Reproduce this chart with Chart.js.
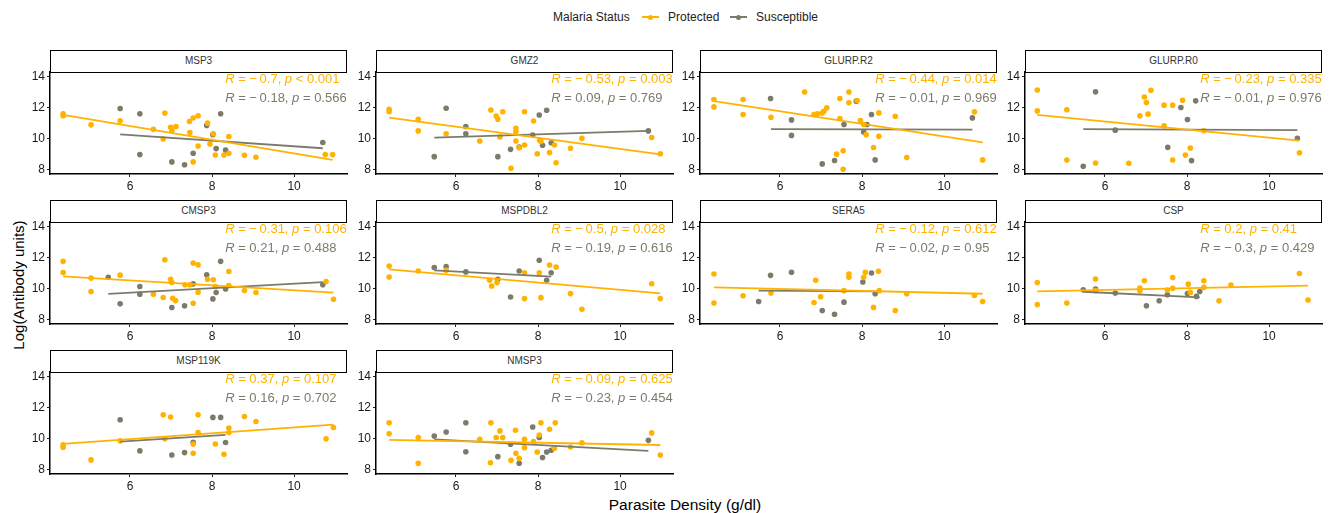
<!DOCTYPE html>
<html>
<head>
<meta charset="utf-8">
<script src="https://cdn.jsdelivr.net/npm/chart.js@4/dist/chart.umd.min.js"></script>
<style>
  body {
    margin: 0;
    width: 1333px;
    height: 513px;
    background: #fff;
    position: relative;
    overflow: hidden;
    font-family: 'Liberation Sans', Arial, sans-serif;
  }
  canvas { position: absolute; }
  .strip {
    position: absolute;
    box-sizing: border-box;
    border: 1.5px solid #000;
    background: #fff;
    font-size: 10px;
    color: #333;
    text-align: center;
    line-height: 20px;
  }
  .txt { position: absolute; white-space: nowrap; color: #222; }
  .key { position: absolute; width: 17px; height: 14px; top: 10px; }
  .key .ln { position: absolute; left: 0; right: 0; top: 6px; height: 1.6px; }
  .key .pt { position: absolute; left: 6px; top: 4.5px; width: 5px; height: 5px; border-radius: 50%; }
</style>
</head>
<body>
<div class="txt" style="left:553px;top:10px;font-size:12px;line-height:14px;">Malaria Status</div>
<div class="key" style="left:642px;"><div class="ln" style="background:#FFB300"></div><div class="pt" style="background:#FFB300"></div></div>
<div class="txt" style="left:668px;top:10px;font-size:12px;line-height:14px;">Protected</div>
<div class="key" style="left:730px;"><div class="ln" style="background:#7C7B6B"></div><div class="pt" style="background:#7C7B6B"></div></div>
<div class="txt" style="left:756px;top:10px;font-size:12px;line-height:14px;">Susceptible</div>
<div class="txt" style="left:18px;top:285px;font-size:15px;transform:translate(-50%,-50%) rotate(-90deg);color:#000;">Log(Antibody units)</div>
<div class="txt" style="left:685px;top:505px;font-size:15.5px;transform:translate(-50%,-50%);color:#000;">Parasite Density (g/dl)</div>
<script>
const PROTECTED = '#FFB300'
const SUSCEPTIBLE = '#7C7B6B'

const antigens = ['MSP3', 'GMZ2', 'GLURP.R2', 'GLURP.R0', 'CMSP3', 'MSPDBL2', 'SERA5', 'CSP', 'MSP119K', 'NMSP3']
const xTickValues = [6, 8, 10]
const yTickValues = [8, 10, 12, 14]

// [parasite density, log antibody]
const msp3Prot = [[4.37, 11.63], [4.37, 11.5], [5.05, 10.91], [5.76, 11.17], [6.57, 10.63], [6.81, 10.0], [6.85, 11.67], [6.99, 10.76], [7.02, 10.55], [7.12, 10.8], [7.45, 11.13], [7.54, 11.35], [7.66, 11.5], [7.46, 10.42], [7.54, 8.52], [7.66, 9.55], [7.89, 11.02], [7.95, 9.68], [8.03, 10.33], [8.08, 8.97], [8.29, 8.97], [8.41, 10.16], [8.41, 9.08], [8.79, 8.95], [9.07, 8.82], [10.76, 8.99], [10.94, 8.99]]
const msp3Sus = [[5.76, 11.97], [6.24, 11.63], [6.24, 8.99], [7.02, 8.52], [7.33, 8.34], [7.54, 9.08], [7.87, 10.87], [8.02, 10.27], [8.10, 9.38], [8.21, 11.63], [8.33, 9.29], [10.70, 9.77]]
const gmz2Prot = [[4.37, 11.91], [4.37, 11.76], [5.08, 11.27], [5.08, 10.52], [5.76, 10.34], [6.58, 9.87], [6.85, 11.87], [6.98, 11.48], [7.02, 11.27], [7.14, 11.76], [7.07, 10.13], [7.34, 8.11], [7.46, 10.69], [7.46, 10.47], [7.46, 9.87], [7.54, 9.44], [7.67, 9.61], [7.67, 11.76], [7.89, 11.16], [7.98, 9.05], [8.04, 9.91], [8.07, 9.83], [8.28, 9.12], [8.40, 9.61], [8.44, 8.47], [8.79, 9.40], [9.07, 10.04], [10.77, 10.09], [10.98, 9.05]]
const gmz2Sus = [[5.47, 8.86], [5.76, 11.98], [6.24, 10.80], [6.24, 10.34], [7.02, 8.86], [7.33, 9.33], [7.54, 9.48], [7.87, 10.26], [8.03, 11.55], [8.11, 9.59], [8.21, 11.85], [8.32, 9.76], [10.69, 10.52]]
const glurpR2Prot = [[4.39, 12.55], [4.39, 12.07], [5.10, 12.55], [5.10, 11.58], [5.78, 11.40], [6.60, 13.03], [6.83, 11.58], [6.91, 11.62], [7.03, 11.68], [7.07, 11.79], [7.14, 12.01], [7.46, 12.61], [7.46, 11.32], [7.68, 13.03], [7.68, 12.33], [7.88, 12.48], [7.38, 9.02], [7.54, 9.24], [7.54, 8.05], [7.96, 11.19], [8.04, 10.93], [8.10, 10.28], [8.28, 9.45], [8.41, 10.17], [8.41, 11.68], [8.81, 11.47], [9.09, 8.80], [10.74, 11.75], [10.94, 8.65]]
const glurpR2Sus = [[5.77, 12.61], [6.28, 11.23], [6.28, 10.23], [7.03, 8.39], [7.33, 8.61], [7.56, 10.93], [7.86, 12.44], [8.04, 10.45], [8.12, 10.93], [8.23, 11.58], [8.32, 8.65], [10.69, 11.36]]
const glurpR0Prot = [[4.35, 13.16], [4.35, 11.81], [5.07, 11.88], [5.07, 8.64], [5.77, 8.45], [6.58, 8.43], [6.85, 11.49], [6.96, 12.71], [7.01, 12.35], [7.05, 11.60], [7.12, 13.14], [7.44, 12.18], [7.44, 10.85], [7.65, 12.18], [7.65, 8.64], [7.89, 12.50], [7.96, 8.96], [8.08, 9.41], [8.41, 10.53], [10.74, 9.11]]
const glurpR0Sus = [[5.47, 8.24], [5.77, 13.04], [6.25, 10.57], [7.53, 9.46], [7.85, 12.03], [8.01, 11.26], [8.11, 8.60], [8.21, 12.46], [10.69, 10.04]]
const cmsp3Prot = [[4.37, 11.78], [4.37, 11.06], [5.05, 10.70], [5.05, 9.83], [5.76, 10.89], [6.57, 9.66], [6.81, 9.45], [6.85, 11.88], [6.99, 10.63], [7.02, 10.42], [7.04, 9.40], [7.11, 9.25], [7.34, 10.27], [7.46, 10.27], [7.54, 9.08], [7.54, 11.67], [7.66, 11.56], [7.66, 9.79], [7.89, 10.63], [8.03, 10.59], [8.08, 10.16], [8.41, 11.13], [8.41, 10.22], [8.79, 9.90], [9.07, 9.77], [10.78, 10.48], [10.96, 9.34]]
const cmsp3Sus = [[5.47, 10.76], [5.76, 9.04], [6.24, 10.16], [6.24, 9.66], [7.02, 8.80], [7.33, 8.91], [7.54, 10.33], [7.87, 10.91], [8.02, 9.36], [8.10, 9.77], [8.21, 11.78], [8.33, 9.99], [10.70, 10.27]]
const mspdbl2Prot = [[4.37, 11.48], [4.37, 10.77], [5.08, 11.16], [5.76, 11.20], [6.82, 10.56], [6.87, 10.19], [7.00, 10.41], [7.67, 11.05], [7.67, 9.38], [8.03, 11.05], [8.07, 9.44], [8.28, 11.55], [8.44, 11.42], [8.79, 9.70], [9.07, 8.69], [10.77, 10.34], [10.98, 9.38]]
const mspdbl2Sus = [[5.47, 11.38], [5.76, 11.44], [6.24, 11.10], [7.02, 10.62], [7.33, 9.48], [7.54, 11.16], [8.03, 11.85], [8.21, 10.56], [8.32, 11.05]]
const sera5Prot = [[4.39, 10.97], [4.39, 9.09], [5.10, 9.56], [5.78, 9.74], [6.87, 10.56], [6.83, 9.13], [6.99, 9.50], [7.56, 9.89], [7.68, 10.97], [7.68, 10.75], [8.04, 10.75], [8.08, 11.08], [8.28, 8.81], [8.40, 11.14], [8.42, 9.89], [8.81, 8.61], [9.09, 9.69], [10.74, 9.58], [10.94, 9.19]]
const sera5Sus = [[5.48, 9.19], [5.77, 10.88], [6.28, 11.08], [7.03, 8.61], [7.33, 8.37], [7.56, 9.15], [8.02, 10.45], [8.23, 11.03], [8.32, 9.69]]
const cspProt = [[4.35, 10.42], [4.35, 8.99], [5.07, 9.09], [5.77, 10.64], [5.77, 9.89], [6.85, 10.06], [6.96, 10.53], [6.85, 9.89], [7.52, 9.93], [7.65, 10.74], [7.65, 10.04], [8.03, 10.31], [8.08, 9.78], [8.41, 10.53], [8.41, 10.10], [8.78, 9.24], [9.07, 10.25], [10.74, 11.00], [10.95, 9.29]]
const cspSus = [[5.47, 9.95], [5.77, 9.99], [6.25, 9.74], [7.01, 8.92], [7.32, 9.24], [7.52, 9.63], [8.01, 9.71], [8.23, 9.52], [8.31, 9.84]]
const msp119kProt = [[4.37, 9.62], [4.37, 9.47], [5.05, 8.65], [5.76, 9.88], [6.81, 11.56], [6.85, 10.01], [6.99, 11.41], [7.54, 9.68], [7.54, 9.08], [7.66, 11.56], [7.66, 10.42], [8.08, 9.68], [8.29, 9.01], [8.41, 10.70], [8.41, 10.42], [8.79, 11.45], [9.07, 11.13], [10.78, 10.01], [10.96, 10.74]]
const msp119kSus = [[5.76, 11.24], [6.24, 9.23], [7.02, 8.97], [7.33, 9.12], [7.54, 9.79], [8.02, 11.39], [8.21, 11.39], [8.33, 9.77]]
const nmsp3Prot = [[4.37, 11.05], [4.37, 10.34], [5.08, 10.09], [5.08, 8.43], [6.58, 9.98], [6.85, 11.05], [6.84, 8.47], [6.98, 10.09], [7.07, 10.52], [7.14, 10.09], [7.34, 8.62], [7.45, 10.56], [7.46, 9.08], [7.54, 8.75], [7.67, 9.98], [7.67, 9.44], [7.89, 9.83], [7.98, 9.16], [8.03, 10.26], [8.07, 11.05], [8.28, 10.62], [8.40, 9.40], [8.42, 11.05], [8.79, 9.48], [9.07, 9.76], [10.77, 10.39], [10.98, 8.97]]
const nmsp3Sus = [[5.47, 10.19], [5.76, 10.45], [6.24, 11.05], [6.24, 9.18], [7.02, 8.86], [7.33, 9.66], [7.54, 8.43], [7.87, 10.77], [8.03, 10.09], [8.11, 8.80], [8.21, 9.16], [8.32, 9.27], [10.69, 9.91]]

// fitted line end points
const protFits = [
  [[4.37, 11.56], [10.94, 8.65]], [[4.37, 11.38], [10.98, 9.01]], [[4.39, 12.44], [10.94, 9.78]], [[4.35, 11.56], [10.74, 9.89]],
  [[4.37, 10.81], [10.96, 9.77]], [[4.37, 11.27], [10.98, 9.72]], [[4.39, 10.10], [10.94, 9.69]], [[4.35, 9.84], [10.95, 10.21]],
  [[4.37, 9.68], [10.96, 10.92]], [[4.37, 9.94], [10.98, 9.61]]
]
const susFits = [
  [[5.76, 10.29], [10.70, 9.40]], [[5.47, 10.09], [10.69, 10.52]], [[5.78, 10.64], [10.69, 10.60]], [[5.47, 10.64], [10.69, 10.57]],
  [[5.47, 9.68], [10.70, 10.44]], [[5.47, 11.20], [8.32, 10.80]], [[5.48, 9.89], [8.32, 9.84]], [[5.47, 9.82], [8.31, 9.46]],
  [[5.76, 9.83], [8.33, 10.27]], [[5.47, 9.98], [10.69, 9.23]]
]

const protR = [-0.7, -0.53, -0.44, -0.23, -0.31, -0.5, -0.12, 0.2, 0.37, -0.09]
const protP = ['< 0.001', '= 0.003', '= 0.014', '= 0.335', '= 0.106', '= 0.028', '= 0.612', '= 0.41', '= 0.107', '= 0.625']
const susR = [-0.18, 0.09, -0.01, -0.01, 0.21, -0.19, -0.02, -0.3, 0.16, -0.23]
const susP = ['= 0.566', '= 0.769', '= 0.969', '= 0.976', '= 0.488', '= 0.616', '= 0.95', '= 0.429', '= 0.702', '= 0.454']

const protPoints = [msp3Prot, gmz2Prot, glurpR2Prot, glurpR0Prot, cmsp3Prot, mspdbl2Prot, sera5Prot, cspProt, msp119kProt, nmsp3Prot]
const susPoints = [msp3Sus, gmz2Sus, glurpR2Sus, glurpR0Sus, cmsp3Sus, mspdbl2Sus, sera5Sus, cspSus, msp119kSus, nmsp3Sus]

// layout of the facet grid
const colLefts = [50, 376, 700, 1025]
const rowTops = [50, 200, 350]
const plotW = 297
const plotH = 102
const stripH = 23
const axisW = 50
const axisH = 24
const pad = 10

Chart.defaults.font.family = "'Liberation Sans', Arial, sans-serif"

const toXY = arr => arr.map(([x, y]) => ({ x, y }))
const fmtR = r => (r < 0 ? '\u2212\u2009' + Math.abs(r) : String(r))

const corrLabelPlugin = {
  id: 'corrLabels',
  afterDatasetsDraw (chart, args, opts) {
    const { ctx, chartArea, scales } = chart
    ctx.save()
    ctx.beginPath()
    ctx.rect(chartArea.left, chartArea.top, chartArea.right - chartArea.left, chartArea.bottom - chartArea.top)
    ctx.clip()
    ctx.textBaseline = 'middle'
    opts.lines.forEach(line => {
      let px = scales.x.getPixelForValue(opts.labelX)
      const py = scales.y.getPixelForValue(line.y)
      ctx.fillStyle = line.color
      const segs = [
        { t: 'R', italic: true },
        { t: ' = ' + fmtR(line.r) + ', ' },
        { t: 'p', italic: true },
        { t: ' ' + line.p }
      ]
      segs.forEach(seg => {
        ctx.font = (seg.italic ? 'italic ' : '') + "13px 'Liberation Sans', Arial, sans-serif"
        ctx.fillText(seg.t, px, py)
        px += ctx.measureText(seg.t).width
      })
    })
    ctx.restore()
  }
}

const axisCommon = {
  type: 'linear',
  grid: { drawOnChartArea: false, drawTicks: true, tickLength: 3, color: '#222', lineWidth: 1 },
  border: { display: true, color: '#000', width: 1.5 },
  ticks: { color: '#1a1a1a', font: { size: 12 }, padding: 2, autoSkip: false, maxRotation: 0 }
}

antigens.forEach((name, i) => {
  const left = colLefts[i % 4]
  const top = rowTops[Math.floor(i / 4)]

  const strip = document.createElement('div')
  strip.className = 'strip'
  strip.style.left = left + 'px'
  strip.style.top = top + 'px'
  strip.style.width = plotW + 'px'
  strip.style.height = stripH + 'px'
  strip.textContent = name

  const canvas = document.createElement('canvas')
  canvas.width = axisW + plotW + pad
  canvas.height = pad + plotH + axisH
  canvas.style.left = (left - axisW) + 'px'
  canvas.style.top = (top + stripH - 1 - pad) + 'px'
  document.body.appendChild(canvas)
  document.body.appendChild(strip)

  new Chart(canvas, {
    type: 'scatter',
    data: {
      datasets: [
        { data: toXY(protFits[i]), showLine: true, borderColor: PROTECTED, borderWidth: 1.8, pointRadius: 0, order: 0 },
        { data: toXY(susFits[i]), showLine: true, borderColor: SUSCEPTIBLE, borderWidth: 1.8, pointRadius: 0, order: 1 },
        { data: toXY(protPoints[i]), backgroundColor: PROTECTED, pointRadius: 2.8, pointBorderWidth: 0, order: 2 },
        { data: toXY(susPoints[i]), backgroundColor: SUSCEPTIBLE, pointRadius: 2.8, pointBorderWidth: 0, order: 3 }
      ]
    },
    options: {
      responsive: false,
      animation: false,
      devicePixelRatio: 1,
      layout: { padding: { top: pad, right: pad, left: 0, bottom: 0 } },
      plugins: {
        legend: { display: false },
        tooltip: { enabled: false },
        corrLabels: {
          labelX: 8.32,
          lines: [
            { r: protR[i], p: protP[i], y: 13.87, color: PROTECTED },
            { r: susR[i], p: susP[i], y: 12.64, color: SUSCEPTIBLE }
          ]
        }
      },
      scales: {
        x: {
          ...axisCommon,
          min: 4.05,
          max: 11.29,
          afterBuildTicks: scale => { scale.ticks = xTickValues.map(v => ({ value: v })) },
          afterFit: scale => { scale.height = axisH }
        },
        y: {
          ...axisCommon,
          min: 7.74,
          max: 14.32,
          afterBuildTicks: scale => { scale.ticks = yTickValues.map(v => ({ value: v })) },
          afterFit: scale => { scale.width = axisW }
        }
      }
    },
    plugins: [corrLabelPlugin]
  })
})
</script>
</body>
</html>
